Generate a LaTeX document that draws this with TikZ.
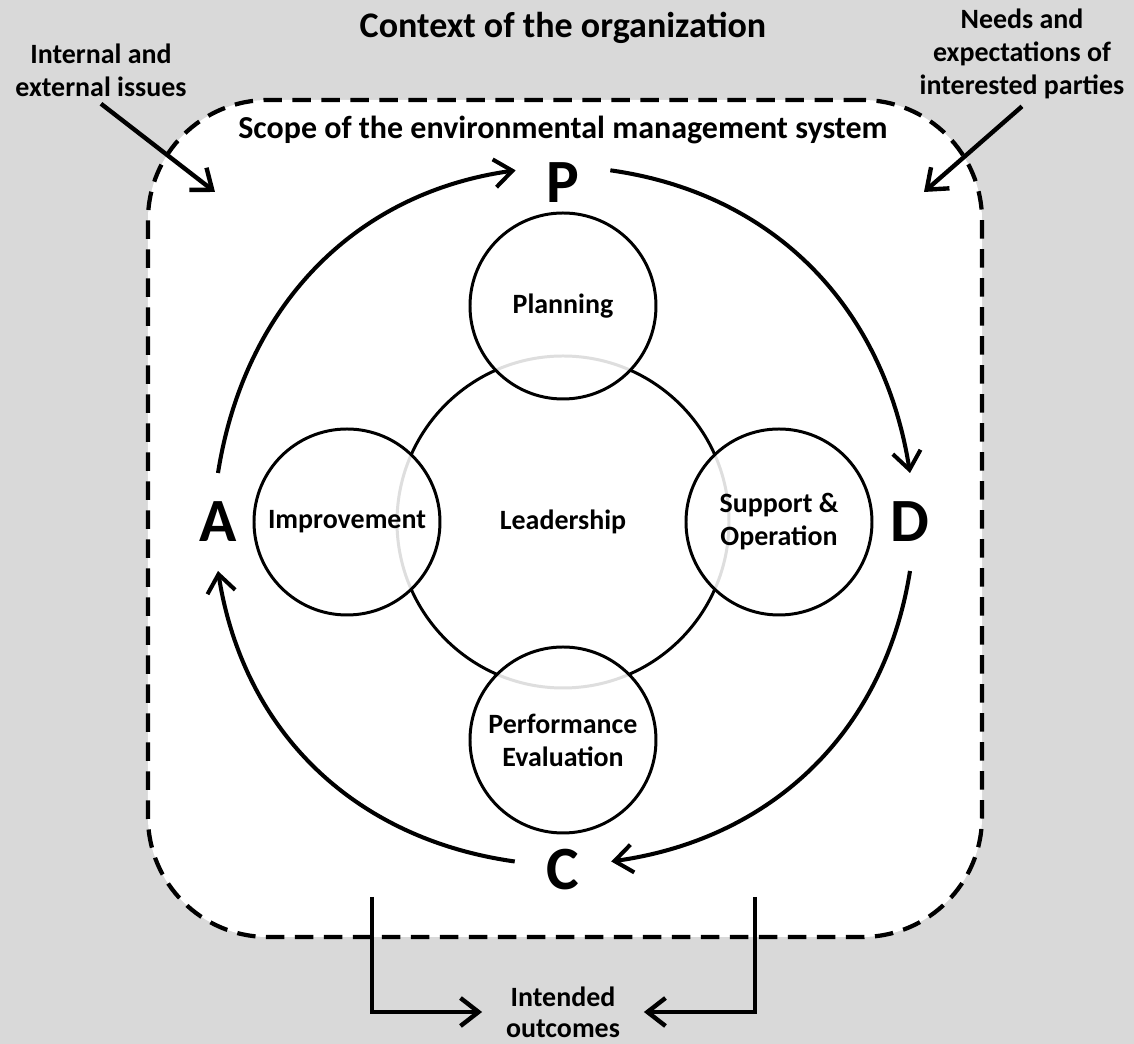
\documentclass[tikz,border=0pt]{standalone}
\usepackage{fontspec}
\setmainfont{Carlito}
\usepackage{tikz}
\usetikzlibrary{arrows, arrows.meta, positioning}
\definecolor{pagegray}{RGB}{217,217,217}

\begin{document}
\begin{tikzpicture}[
            > = {Straight Barb[length=3.6mm, width=5.6mm]}, % open arrow head
            node distance = 4.32cm, % leadership centre to phase centre
            font = \bfseries\fontsize{15.9}{18.8}\selectfont,
            line width = 1.7pt % circle outline
        ]
        \tikzstyle{phase}=[
            draw = black,
            circle,
            fill = white,
            fill opacity = 0.87,
            text opacity = 1,
            minimum size = 3.72cm,
            inner sep = 0pt,
            align = center
        ]
        \tikzstyle{letter}=[
            circle,
            minimum size = 1.9cm,
            inner sep = 0pt,
            font = \bfseries\fontsize{35}{35}\selectfont
        ]
        \tikzstyle{cycle}=[->, line width = 2.3pt]
        \tikzstyle{feed}=[->, line width = 2.5pt]

        % page
        \fill[pagegray, use as bounding box] (-11.26,-10.44) rectangle (11.42,10.44);

        % scope box
        \node[draw, fill = white, line width = 2.4pt, dash pattern = on 0.37cm off 0.21cm,
            rounded corners = 2.4cm, minimum width = 16.68cm, minimum height = 16.74cm]
            (scope) at (0.04,0.07) {};
        \node (context) at (0,9.88) {\fontsize{20.5}{22}\selectfont Context of the organization};
        \node (scopename) at (0,7.84) {\fontsize{18.2}{20}\selectfont Scope of the environmental management system};

        % circles
        \node[circle, draw, minimum size = 6.64cm, inner sep = 0pt] (lead) at (0,0) {Leadership};
        \node[phase] (plan) [above of=lead] {Planning};
        \node[phase] (impr) [left of=lead] {Improvement};
        \node[phase] (supp) [right of=lead] {Support \&\\Operation};
        \node[phase] (perf) [below of=lead, node distance = 4.36cm] {Performance\\Evaluation};

        % PDCA
        \node[letter] (P) [above of=lead, node distance = 6.78cm] {P};
        \node[letter] (D) [right of=lead, node distance = 6.94cm] {D};
        \node[letter] (C) [below of=lead, node distance = 6.96cm] {C};
        \node[letter] (A) [left of=lead, node distance = 6.9cm] {A};

        \path[cycle] (A.north) edge[out=81, in=188] (P.165);
        \path[cycle] (P.15) edge[out=-8, in=99] (D.north);
        \path[cycle] (D.south) edge[out=-99, in=8] (C.10);
        \path[cycle] (C.170) edge[out=172, in=-81] (A.south);

        % inputs and outputs
        \node[align = center] (issues) at (-9.24,9.04) {Internal and\\external issues};
        \node[align = center] (needs) at (9.18,9.36) {Needs and\\expectations of\\interested parties};
        \coordinate (issuesin) at (-6.96,6.60);
        \coordinate (needsin) at (7.22,6.60);
        \draw[feed] (issues.south) -- (issuesin);
        \draw[feed] (needs.south) -- (needsin);

        \node[align = center, inner xsep = 0.45cm, font = \bfseries\fontsize{15.9}{17.6}\selectfont]
            (goal) at (0,-9.8) {Intended\\outcomes};
        \coordinate (outl) at (-3.82,-7.5);
        \coordinate (outr) at (3.84,-7.5);
        \draw[feed] (outl) |- (goal.west);
        \draw[feed] (outr) |- (goal.east);
    \end{tikzpicture}
\end{document}
